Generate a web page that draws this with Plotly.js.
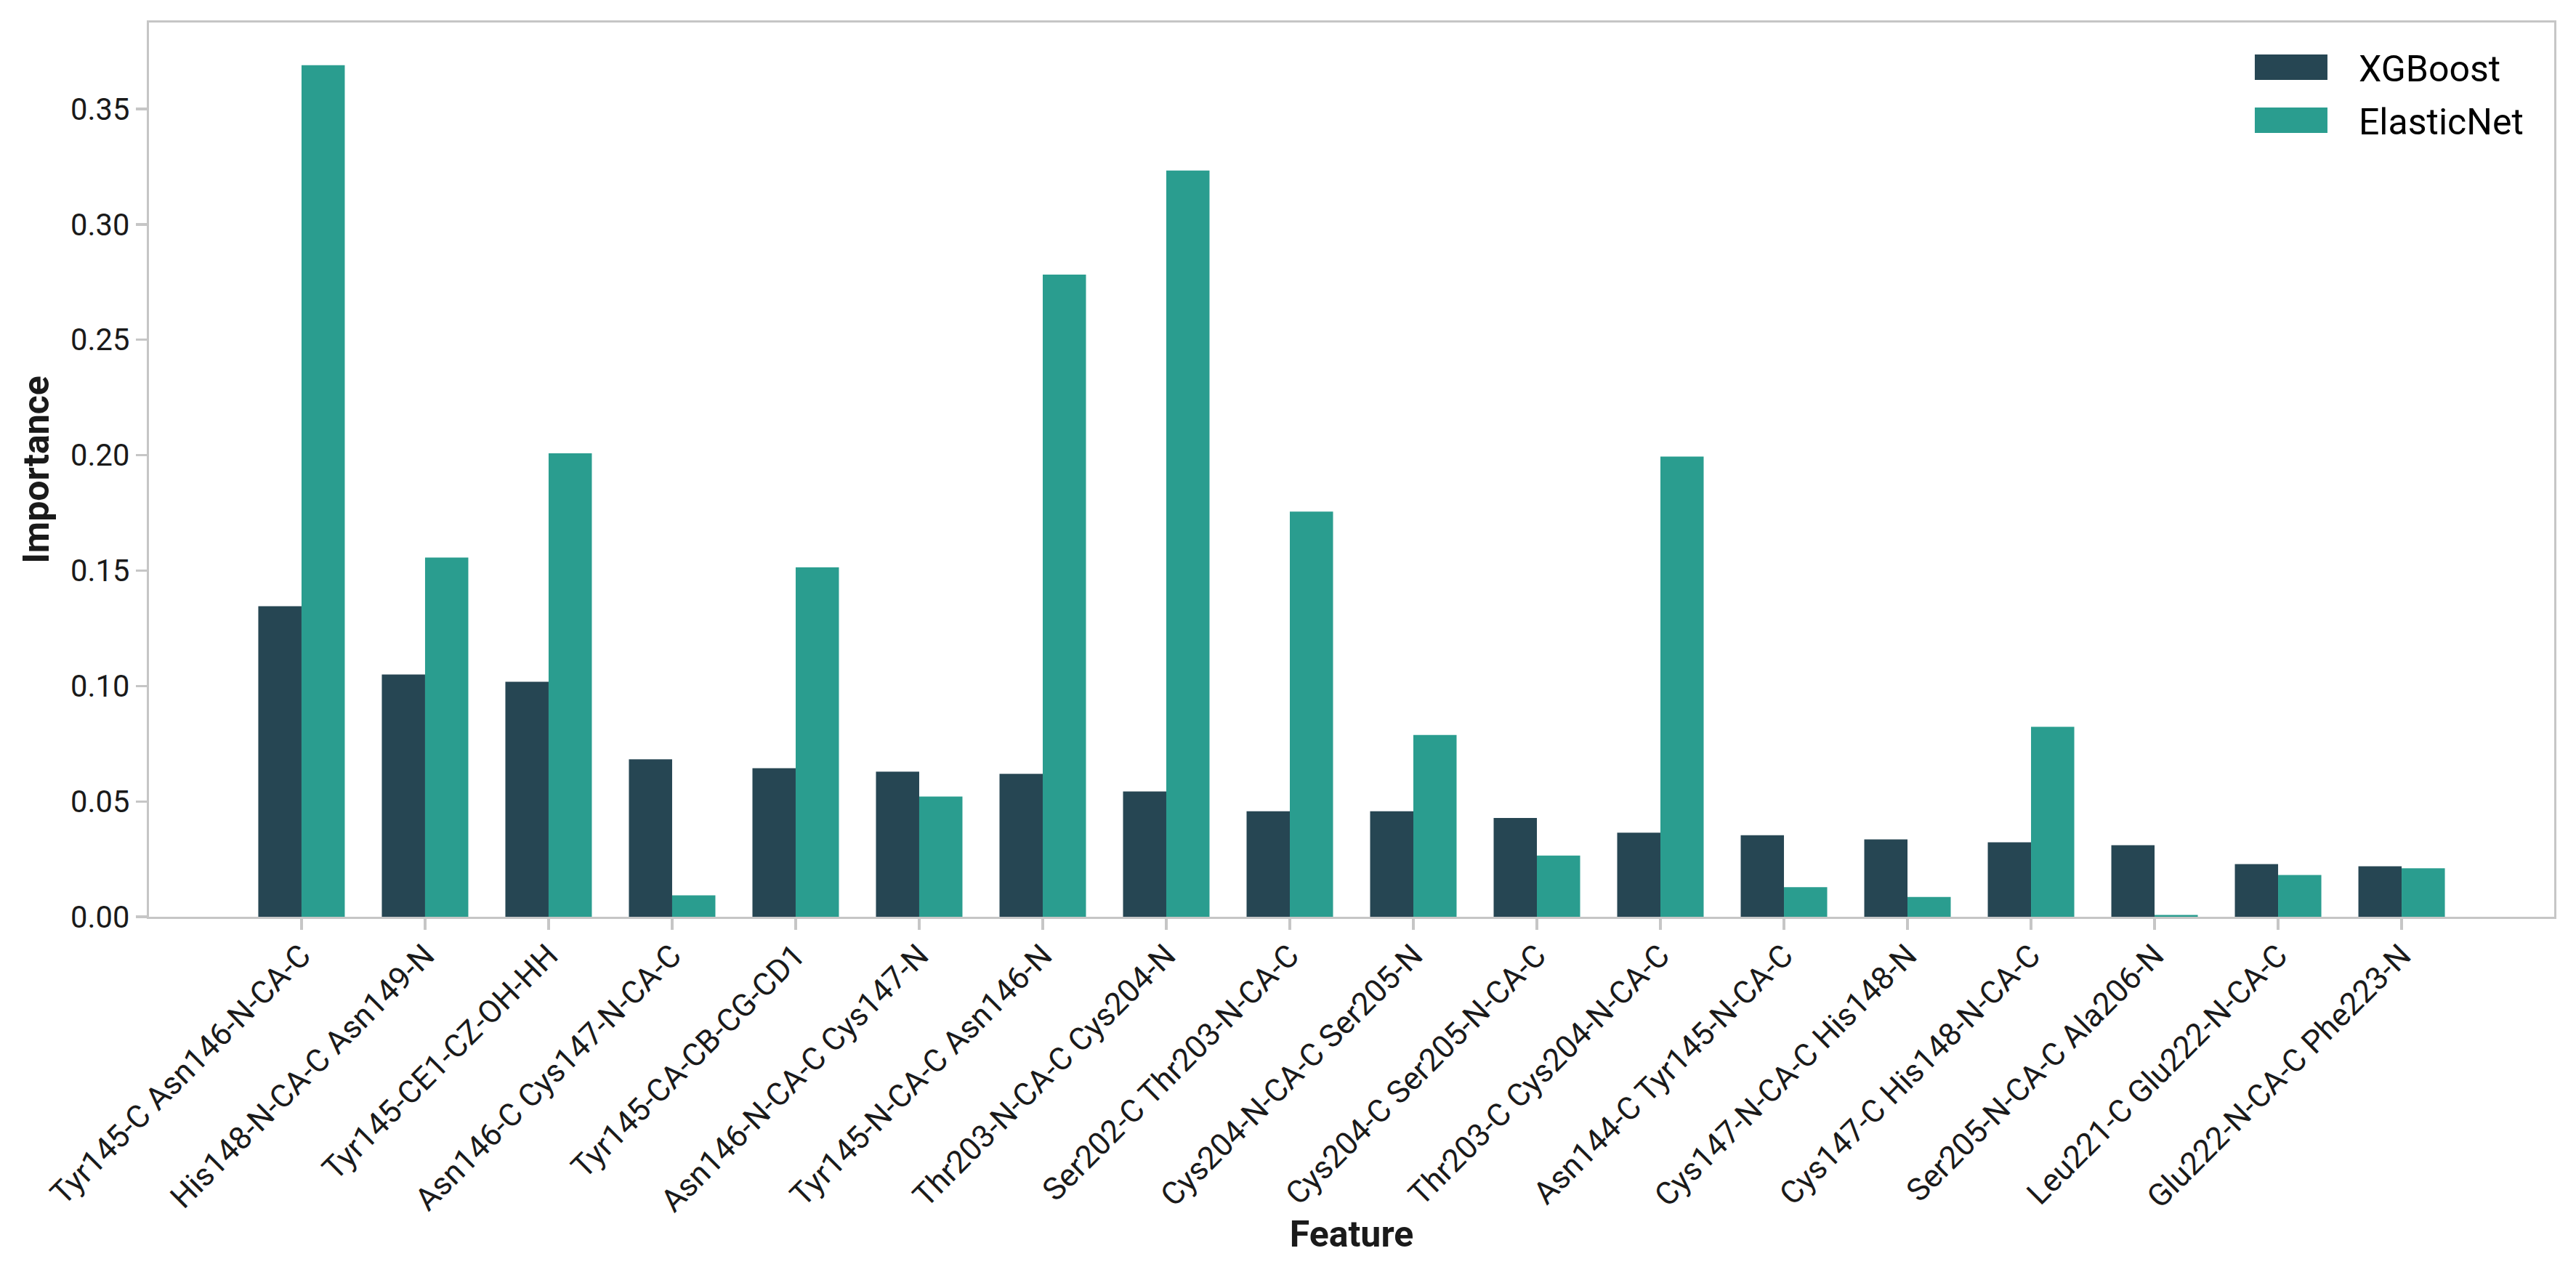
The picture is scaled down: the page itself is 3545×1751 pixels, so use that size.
<!DOCTYPE html>
<html>
<head>
<meta charset="utf-8">
<script src="https://cdn.plot.ly/plotly-3.0.1.min.js"></script>
<style>
html, body { margin: 0; padding: 0; background: #ffffff; }
#chart { width: 3545px; height: 1751px; }
</style>
</head>
<body>
<div id="chart"></div>
<script>
// ---- data ----
const features = [
  "Tyr145-C Asn146-N-CA-C",
  "His148-N-CA-C Asn149-N",
  "Tyr145-CE1-CZ-OH-HH",
  "Asn146-C Cys147-N-CA-C",
  "Tyr145-CA-CB-CG-CD1",
  "Asn146-N-CA-C Cys147-N",
  "Tyr145-N-CA-C Asn146-N",
  "Thr203-N-CA-C Cys204-N",
  "Ser202-C Thr203-N-CA-C",
  "Cys204-N-CA-C Ser205-N",
  "Cys204-C Ser205-N-CA-C",
  "Thr203-C Cys204-N-CA-C",
  "Asn144-C Tyr145-N-CA-C",
  "Cys147-N-CA-C His148-N",
  "Cys147-C His148-N-CA-C",
  "Ser205-N-CA-C Ala206-N",
  "Leu221-C Glu222-N-CA-C",
  "Glu222-N-CA-C Phe223-N"
];
const xgboostImportance = [0.1346, 0.1050, 0.1018, 0.0682, 0.0644, 0.0629, 0.0619, 0.0543, 0.0457,
                           0.0457, 0.0428, 0.0364, 0.0353, 0.0335, 0.0323, 0.0310, 0.0228, 0.0219];
const elasticNetImportance = [0.3690, 0.1557, 0.2008, 0.0093, 0.1514, 0.0521, 0.2783, 0.3234, 0.1756,
                              0.0788, 0.0265, 0.1994, 0.0128, 0.0086, 0.0823, 0.0008, 0.0181, 0.0210];
const seriesNames = ["XGBoost", "ElasticNet"];
const yTickValues = [0, 0.05, 0.10, 0.15, 0.20, 0.25, 0.30, 0.35];
const yTickLabels = ["0.00", "0.05", "0.10", "0.15", "0.20", "0.25", "0.30", "0.35"];

// ---- style ----
const colors = ["#264653", "#2a9d8f"];
const FONT = "Roboto, 'Liberation Sans', sans-serif";
const frameColor = "#c6c6c6";
const textColor = "#1a1a1a";

const traces = [
  {
    type: "bar", name: seriesNames[0], x: features, y: xgboostImportance,
    marker: { color: colors[0], line: { width: 0 } }, legendgroup: "g1", hoverinfo: "skip"
  },
  {
    type: "bar", name: seriesNames[1], x: features, y: elasticNetImportance,
    marker: { color: colors[1], line: { width: 0 } }, legendgroup: "g2", hoverinfo: "skip"
  }
];

const axisCommon = {
  showline: true, mirror: true, linecolor: frameColor, linewidth: 3.3,
  ticks: "outside", ticklen: 15, tickwidth: 3.3, tickcolor: frameColor,
  showgrid: false, zeroline: false
};

const layout = {
  width: 3545, height: 1751,
  margin: { l: 205, r: 30, t: 31, b: 489, pad: 0 },
  paper_bgcolor: "#ffffff", plot_bgcolor: "#ffffff",
  barmode: "group", bargap: 0.3, bargroupgap: 0,
  showlegend: true,
  legend: {
    x: 0.8734, y: 0.9818, xanchor: "left", yanchor: "top",
    bgcolor: "rgba(0,0,0,0)", borderwidth: 0,
    font: { family: FONT, size: 50, color: "#000000" }, itemwidth: 140,
    traceorder: "grouped", tracegroupgap: 5,
    itemclick: false, itemdoubleclick: false
  },
  xaxis: Object.assign({}, axisCommon, {
    type: "category", range: [-1.235, 18.235], tickangle: -45,
    tickfont: { family: FONT, size: 43.5, color: textColor }, ticklabelstandoff: -8,
    title: { text: "<b>Feature</b>", font: { family: FONT, size: 50, color: textColor }, standoff: 0 }
  }),
  yaxis: Object.assign({}, axisCommon, {
    range: [0, 0.3875], tickvals: yTickValues, ticktext: yTickLabels,
    tickfont: { family: FONT, size: 41.7, color: textColor },
    title: { text: "<b>Importance</b>", font: { family: FONT, size: 50, color: textColor }, standoff: 14 }
  })
};

function finishTouches(gd) {
  // legend swatches: wide rectangles placed before the legend text
  gd.querySelectorAll("g.traces").forEach(function (item) {
    const p = item.querySelector(".legendpoints path");
    const t = item.querySelector("text.legendtext");
    if (!p || !t) return;
    const ctm = p.getScreenCTM();
    if (!ctm) return;
    const localRight = (t.getBoundingClientRect().left - 43) - ctm.e;
    const localLeft = localRight - 100;
    p.setAttribute("d", "M" + localRight + ",17.5H" + localLeft + "V-17.5H" + localRight + "Z");
  });
  // place the x-axis title baseline where the reference has it
  const xt = gd.querySelector("text.xtitle");
  if (xt && !xt.dataset.moved) {
    const box = xt.getBBox();
    const shift = 1711 - (box.y + box.height * 0.78);
    xt.setAttribute("y", parseFloat(xt.getAttribute("y")) + shift);
    xt.dataset.moved = "1";
  }
}

Plotly.newPlot("chart", traces, layout, { staticPlot: true, displayModeBar: false }).then(function (gd) {
  finishTouches(gd);
});
</script>
</body>
</html>
